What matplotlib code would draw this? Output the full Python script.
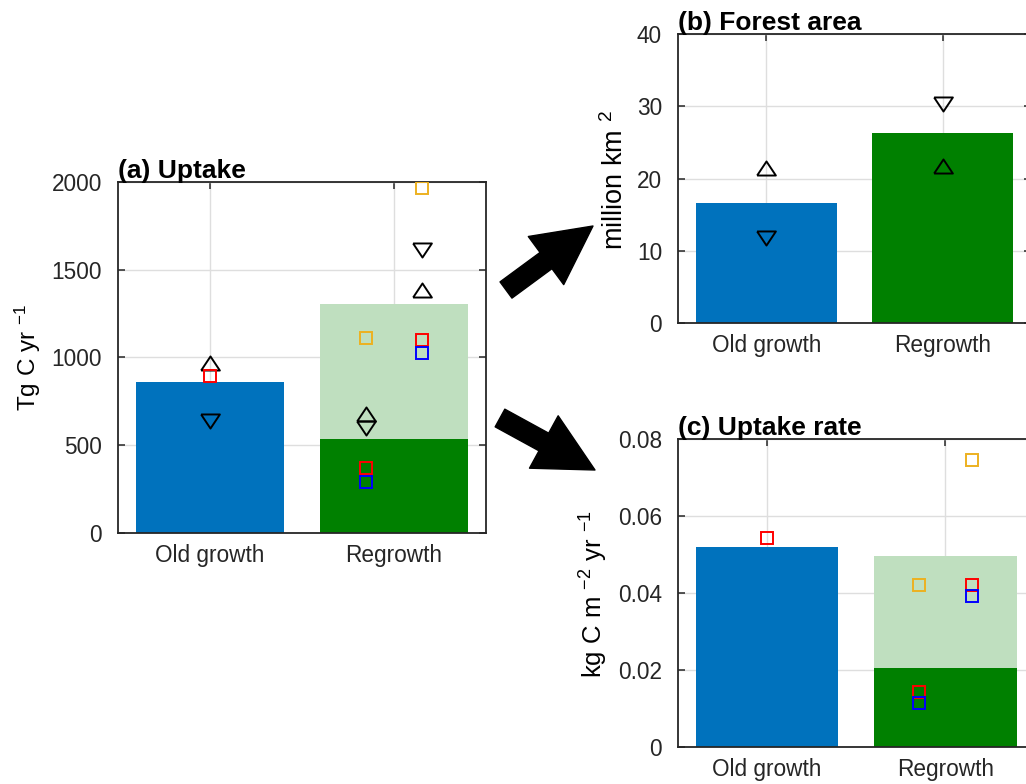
import numpy as np
import matplotlib
matplotlib.use("Agg")
import matplotlib.pyplot as plt
from matplotlib.patches import FancyArrowPatch

# =========================
# Data
# =========================
categories = ["Old growth", "Regrowth"]

# (a) Uptake, Tg C / yr
uptake_bar = [860, 536]          # old growth, regrowth (lower part)
uptake_regrowth_high = 1305      # regrowth upper estimate (light)
uptake_up_x = [1, 1.85, 2.15]
uptake_up = [969, 676, 1385]
uptake_down_x = [1, 1.85, 2.15]
uptake_down = [638, 598, 1615]
uptake_red_x = [1, 1.85, 2.15]
uptake_red = [896, 370, 1100]
uptake_blue_x = [1.85, 2.15]
uptake_blue = [290, 1027]
uptake_orange_x = [1.85, 2.15]
uptake_orange = [1111, 1967]

# (b) Forest area, million km2
area_bar = [16.6, 26.3]
area_up = [21.45, 21.7]
area_down = [11.7, 30.3]

# (c) Uptake rate, kg C / m2 / yr
rate_bar = [0.052, 0.0204]
rate_regrowth_high = 0.0497
rate_red_x = [1, 1.85, 2.15]
rate_red = [0.0542, 0.0141, 0.042]
rate_blue_x = [1.85, 2.15]
rate_blue = [0.0113, 0.0392]
rate_orange_x = [1.85, 2.15]
rate_orange = [0.042, 0.0745]

# =========================
# Style
# =========================
plt.rcParams.update({
    "font.family": ["Liberation Sans", "DejaVu Sans"],
    "font.size": 16,
    "mathtext.default": "regular",
    "axes.linewidth": 1.3,
    "axes.edgecolor": "#262626",
    "xtick.color": "#262626",
    "ytick.color": "#262626",
    "xtick.labelcolor": "#262626",
    "ytick.labelcolor": "#262626",
})

blue = "#0072BD"
green = "#008000"
light_green = "#BFDFBF"
orange = "#EDB120"
grid_color = "#DEDEDE"

tri_up = [(-1, -0.75), (1, -0.75), (0, 0.75), (-1, -0.75)]
tri_down = [(-1, 0.75), (1, 0.75), (0, -0.75), (-1, 0.75)]


def style_axes(ax):
    ax.set_xlim(0.5, 2.5)
    ax.set_xticks([1, 2])
    ax.set_xticklabels(categories)
    ax.tick_params(direction="in", top=True, right=True, length=5, width=1.1,
                   labelsize=16.3)
    ax.tick_params(axis="x", pad=8)
    ax.tick_params(axis="y", pad=11.5)
    ax.grid(True, color=grid_color, linewidth=1.0)
    ax.set_axisbelow(True)


def tri(ax, x, y, verts):
    ax.plot(x, y, linestyle="none", marker=verts, markersize=13.5,
            markerfacecolor="none", markeredgecolor="black", markeredgewidth=1.4, zorder=4)


def sq(ax, x, y, color):
    ax.plot(x, y, linestyle="none", marker="s", markersize=8.3,
            markerfacecolor="none", markeredgecolor=color, markeredgewidth=1.4, zorder=4)


fig = plt.figure(figsize=(10.26, 7.84), dpi=100)
ax_a = fig.add_axes([0.1150, 0.3202, 0.3587, 0.4477])
ax_b = fig.add_axes([0.6608, 0.5880, 0.3441, 0.3686])
ax_c = fig.add_axes([0.6608, 0.0476, 0.3475, 0.3925])

# ---- (a) Uptake
ax_a.bar(2, uptake_regrowth_high, width=0.8, color=light_green, zorder=2)
ax_a.bar([1, 2], uptake_bar, width=0.8, color=[blue, green], zorder=2)
tri(ax_a, uptake_up_x, uptake_up, tri_up)
tri(ax_a, uptake_down_x, uptake_down, tri_down)
sq(ax_a, uptake_red_x, uptake_red, "red")
sq(ax_a, uptake_blue_x, uptake_blue, "blue")
sq(ax_a, uptake_orange_x, uptake_orange, orange)
ax_a.set_ylim(0, 2000)
ax_a.set_yticks([0, 500, 1000, 1500, 2000])
style_axes(ax_a)
ax_a.set_ylabel("Tg C yr $^{-1}$", fontsize=17.5)
ax_a.yaxis.set_label_coords(-0.205, 0.5)
ax_a.set_title("(a) Uptake", loc="left", fontweight="bold", fontsize=19, pad=3)

# ---- (b) Forest area
ax_b.bar([1, 2], area_bar, width=0.8, color=[blue, green], zorder=2)
tri(ax_b, [1, 2], area_up, tri_up)
tri(ax_b, [1, 2], area_down, tri_down)
ax_b.set_ylim(0, 40)
ax_b.set_yticks([0, 10, 20, 30, 40])
style_axes(ax_b)
ax_b.set_ylabel("million km $^{2}$", fontsize=19.5)
ax_b.yaxis.set_label_coords(-0.14, 0.495)
ax_b.set_title("(b) Forest area", loc="left", fontweight="bold", fontsize=19, pad=3)

# ---- (c) Uptake rate
ax_c.bar(2, rate_regrowth_high, width=0.8, color=light_green, zorder=2)
ax_c.bar([1, 2], rate_bar, width=0.8, color=[blue, green], zorder=2)
sq(ax_c, rate_red_x, rate_red, "red")
sq(ax_c, rate_blue_x, rate_blue, "blue")
sq(ax_c, rate_orange_x, rate_orange, orange)
ax_c.set_ylim(0, 0.08)
ax_c.set_yticks([0, 0.02, 0.04, 0.06, 0.08])
ax_c.set_yticklabels(["0", "0.02", "0.04", "0.06", "0.08"])
style_axes(ax_c)
ax_c.set_ylabel("kg C m $^{-2}$ yr $^{-1}$", fontsize=18.5)
ax_c.yaxis.set_label_coords(-0.19, 0.495)
ax_c.set_title("(c) Uptake rate", loc="left", fontweight="bold", fontsize=19, pad=3)

# ---- arrows between panels
W, H = 1026, 784
for (x0, y0), (x1, y1) in [((506, 290), (593, 226)), ((500, 418), (595, 470))]:
    fig.add_artist(FancyArrowPatch(
        (x0 / W, 1 - y0 / H), (x1 / W, 1 - y1 / H),
        transform=fig.transFigure,
        arrowstyle="simple,head_length=4.2,head_width=4.3,tail_width=1.45",
        mutation_scale=10, color="black", shrinkA=0, shrinkB=0))

fig.savefig("out.png", dpi=100, facecolor="white")
